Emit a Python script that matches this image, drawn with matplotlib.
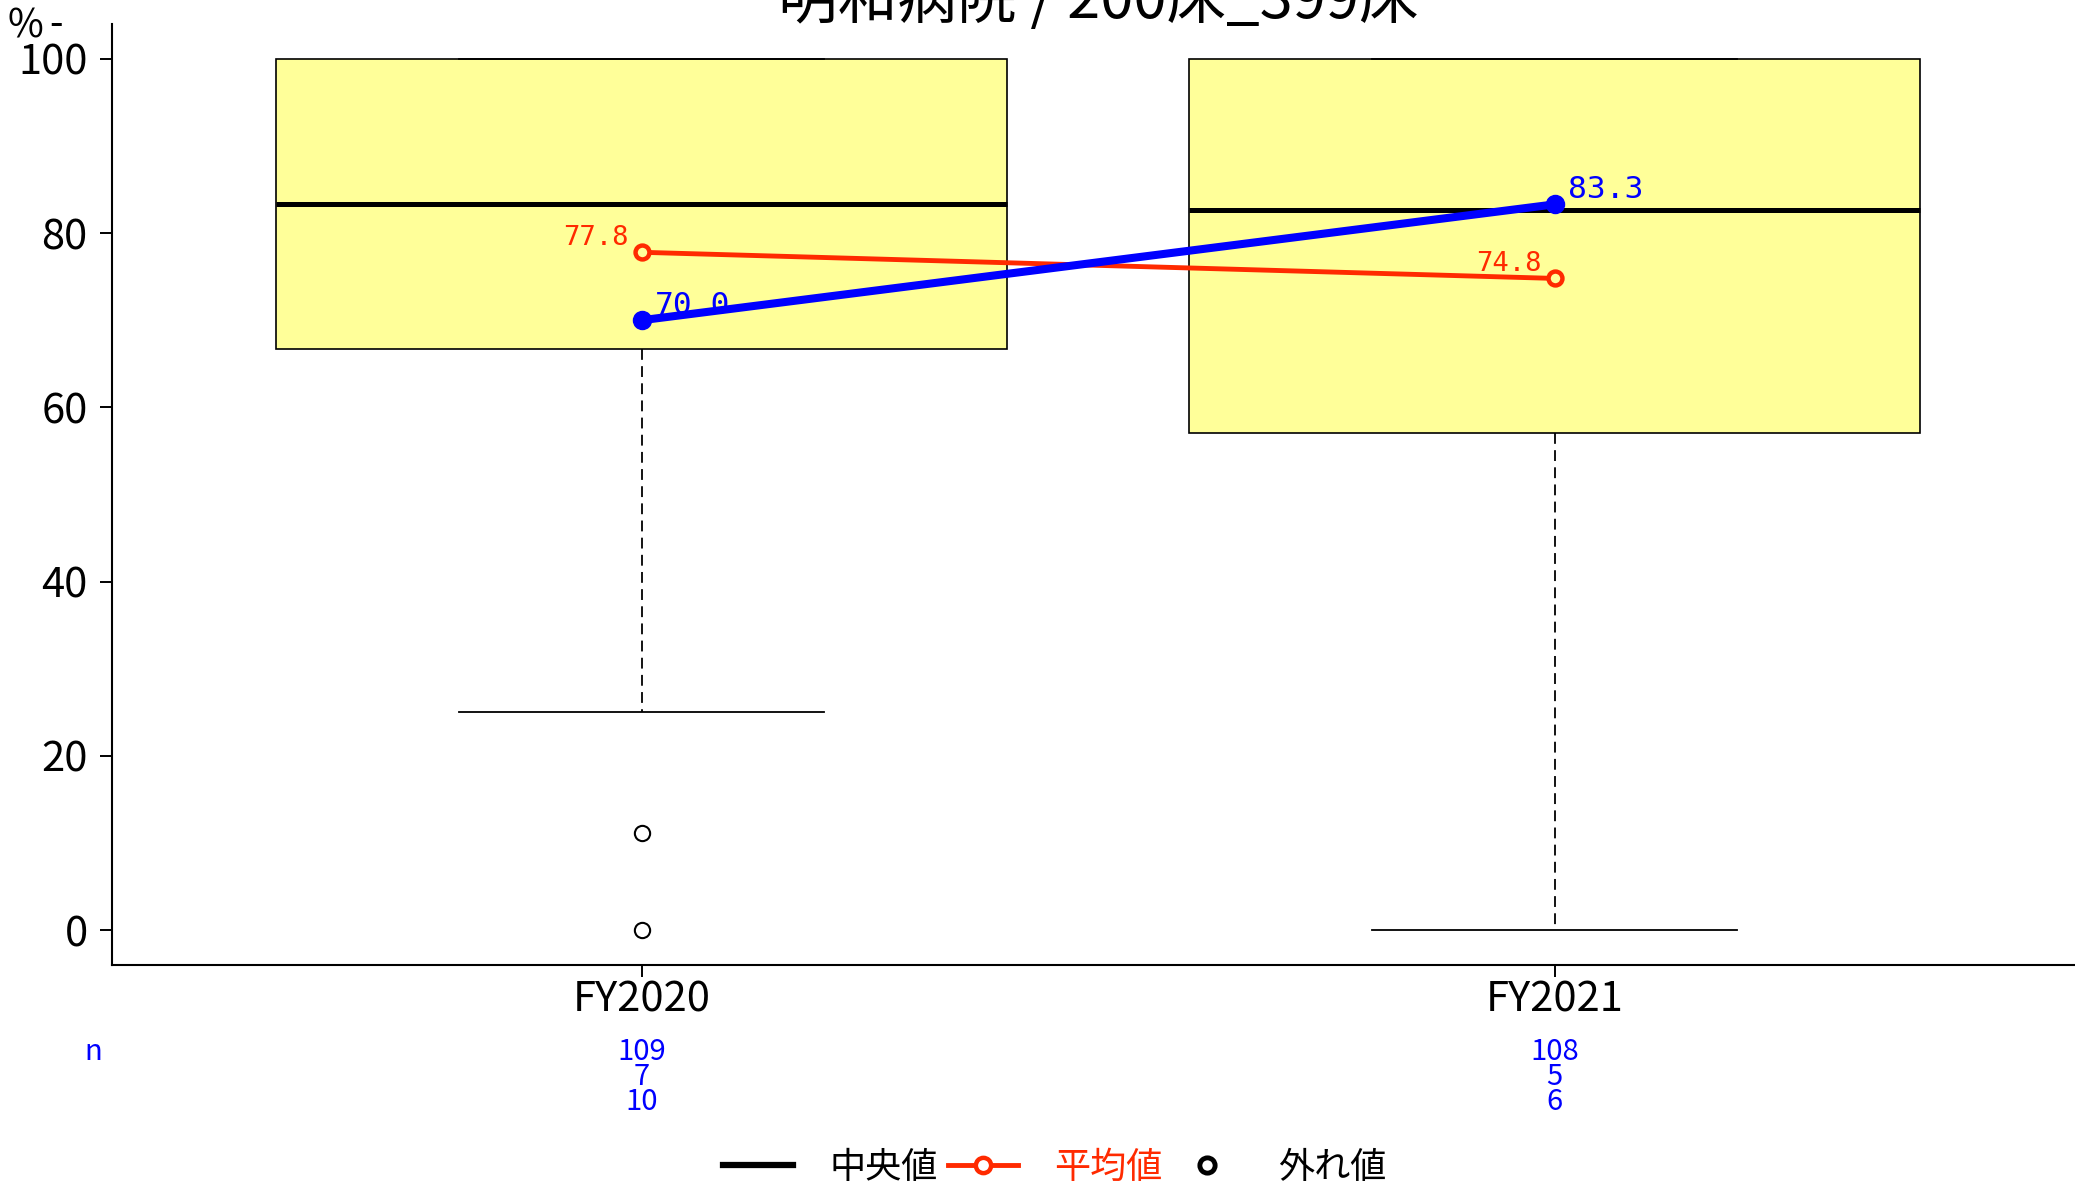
import matplotlib.pyplot as plt
import matplotlib.transforms as mtransforms
from matplotlib.lines import Line2D

plt.rcParams['font.family'] = ['Liberation Sans Narrow', 'Noto Sans CJK JP', 'DejaVu Sans']

# data
years = ["FY2020", "FY2021"]
q1 = [66.7, 57.1]
median = [83.3, 82.6]
q3 = [100.0, 100.0]
whisker_lo = [25.0, 0.0]
whisker_hi = [100.0, 100.0]
outliers = [[11.1, 0.0], []]
mean = [77.8, 74.8]
hospital = [70.0, 83.3]
n_rows = [[109, 7, 10], [108, 5, 6]]
title = "明和病院 / 200床_399床"
legend_labels = ["中央値", "平均値", "外れ値"]

RED = "#FF2A00"
BLUE = "#0000FF"
BOX = "#FFFF99"

W, H = 2075, 1184
fig = plt.figure(figsize=(W / 100, H / 100), dpi=100)
ax = fig.add_axes([112 / W, 1 - 965 / H, 1 - 112 / W, (965 - 24) / H])

pos = list(range(1, len(years) + 1))
stats = []
for i, y in enumerate(years):
    stats.append(dict(label=y, q1=q1[i], med=median[i], q3=q3[i],
                      whislo=whisker_lo[i], whishi=whisker_hi[i],
                      fliers=outliers[i]))

ax.bxp(stats, positions=pos, widths=0.8, capwidths=0.4, patch_artist=True,
       boxprops=dict(facecolor=BOX, edgecolor="black", linewidth=1.2),
       medianprops=dict(color="black", linewidth=3.6),
       whiskerprops=dict(color="black", linewidth=1.3, linestyle=(0, (6, 3.5))),
       capprops=dict(color="black", linewidth=1.3),
       flierprops=dict(marker="o", markersize=11, markerfacecolor="none",
                       markeredgecolor="black", markeredgewidth=1.5))

# mean line (red) and hospital line (blue)
ax.plot(pos, mean, color=RED, lw=3.5, marker="o", ms=10, mfc=BOX, mec=RED,
        mew=3.2, zorder=4)
for x, v in zip(pos, mean):
    ax.annotate(f"{v:.1f}", (x, v), xytext=(-13, 7), textcoords="offset pixels",
                ha="right", va="baseline", color=RED, fontsize=19.5,
                family="DejaVu Sans Mono", zorder=5)
for x, v in zip(pos, hospital):
    ax.annotate(f"{v:.1f}", (x, v), xytext=(13, 6), textcoords="offset pixels",
                ha="left", va="baseline", color=BLUE, fontsize=22.5,
                family="DejaVu Sans Mono", zorder=5)
ax.plot(pos, hospital, color=BLUE, lw=5.8, marker="o", ms=13, zorder=6)

ax.set_xlim(0.42, 2.57)
ax.set_ylim(-4, 104)
ax.set_xticks(pos)
ax.set_xticklabels(years)
ax.set_yticks([0, 20, 40, 60, 80, 100])
ax.spines["top"].set_visible(False)
ax.spines["right"].set_visible(False)
ax.spines["left"].set_linewidth(1.5)
ax.spines["bottom"].set_linewidth(1.5)
ax.tick_params(axis="both", direction="out", length=8.6, width=1.4, labelsize=30)
ax.tick_params(axis="y", pad=9)
ax.tick_params(axis="x", pad=2)

# n rows under the x axis
trans = mtransforms.blended_transform_factory(ax.transData, fig.transFigure)
fig.text(93 / W, 1 - 1052 / H, "n", color=BLUE, fontsize=21, ha="center", va="center")
for x, rows in zip(pos, n_rows):
    for k, val in enumerate(rows):
        ax.text(x, 1 - (1052 + 25 * k) / H, str(val), transform=trans,
                color=BLUE, fontsize=21, ha="center", va="center", clip_on=False)

# title (partly cut at the top in the reference) and unit label
fig.text(1098 / W, 1 - 18 / H, title, ha="center", va="baseline", fontsize=43)
fig.text(25 / W, 1 - 27 / H, "%", ha="center", va="center", fontsize=28)
fig.text(56 / W, 1 - 25 / H, "-", ha="center", va="center", fontsize=28)

handles = [
    Line2D([], [], color="black", lw=4.5),
    Line2D([], [], color=RED, lw=3.5, marker="o", ms=11, mfc="white", mec=RED, mew=3.2),
    Line2D([], [], color="black", ls="none", marker="o", ms=11, mfc="none", mew=3.5),
]
leg = fig.legend(handles, legend_labels, loc="center",
                 bbox_to_anchor=(1055 / W, 1 - 1168 / H), ncol=3, frameon=False,
                 fontsize=26, handlelength=1.94, handletextpad=1.0,
                 columnspacing=0.28)
for t, c in zip(leg.get_texts(), ["black", RED, "black"]):
    t.set_color(c)

fig.savefig("out.png", dpi=100)
